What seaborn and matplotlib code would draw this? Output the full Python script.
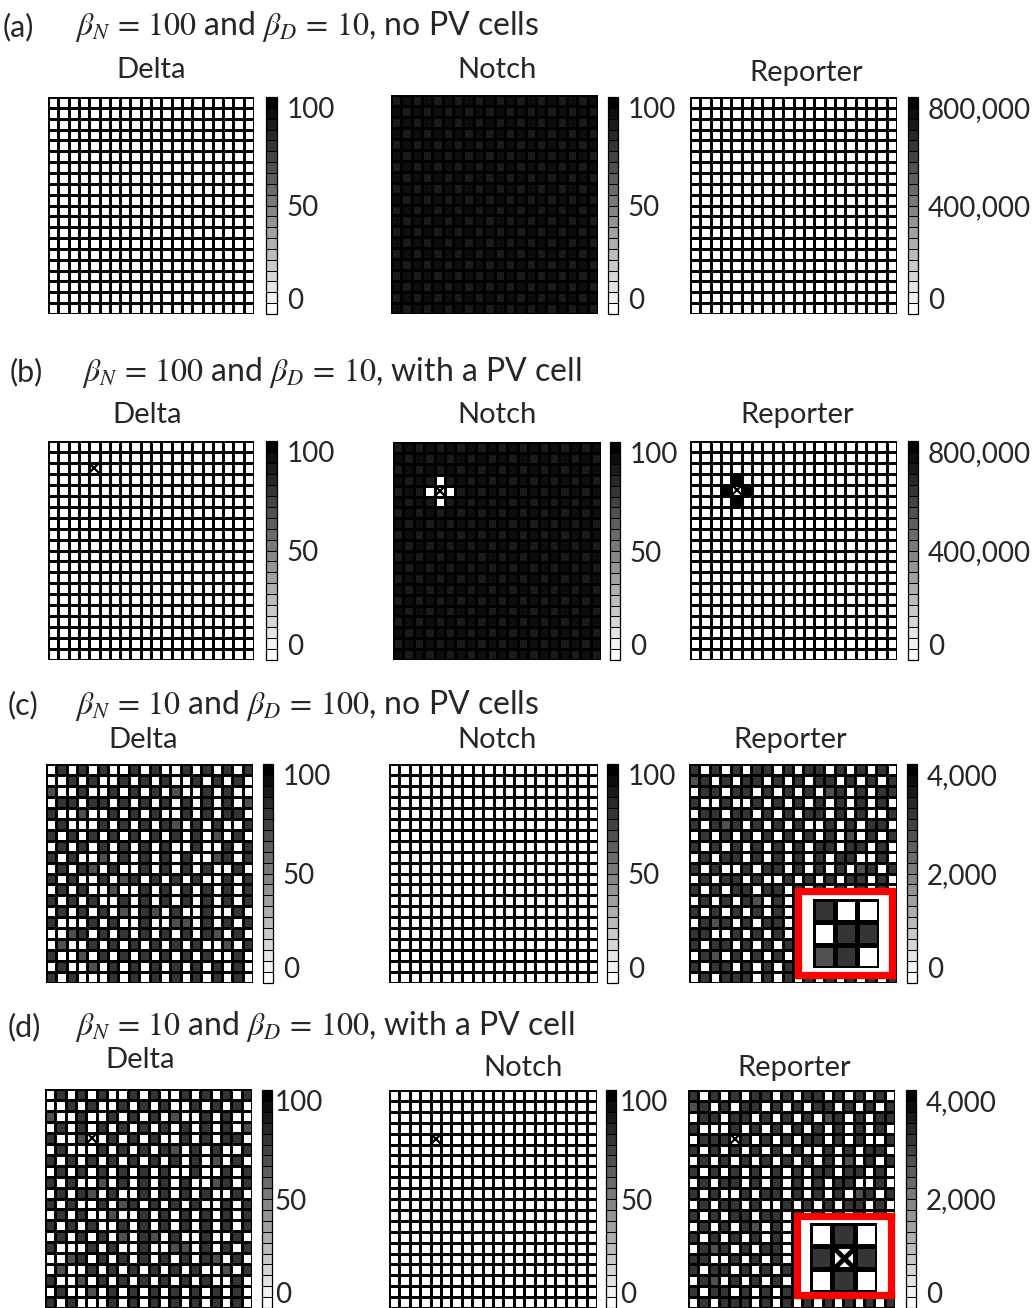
import numpy as np
import matplotlib.pyplot as plt
import seaborn as sns
from matplotlib.colors import ListedColormap

# ---- data (20x20 lattices, row 0 at top) ----
# '.' low, 'D' high, 'm' intermediate, 'a'/'b' the two Notch shades, 'K' saturated
notch_ab_rows = ["abababababababababab", "babababababababababa"] * 10
white_rows = ["...................."] * 20

notch_b_rows = list(notch_ab_rows)
notch_b_rows[3] = "baba.abababababababa"
notch_b_rows[4] = "aba...ababababababab"
notch_b_rows[5] = "baba.abababababababa"

reporter_b_rows = list(white_rows)
reporter_b_rows[3] = "....K..............."
reporter_b_rows[4] = "...K.K.............."
reporter_b_rows[5] = "....K..............."

delta_c_rows = [
    ".D.D.D..D.D..D.D.D.D",
    "..D.D..D.D.D..D.D.D.",
    "m..D..D.D.D.m..D.D..",
    ".DD.DD.D.D.D.D.D.D.m",
    "D..m..D.D.D..D.D.DD.",
    ".D...D.D.D.Dm.D.D..D",
    "D.D.D.D.D.D.D.D.m.D.",
    ".D.D.D.D.D.D..D..D.D",
    "D.D..m.D.D.D.D..mD.D",
    ".D.Dm.D..D.D.D.D..D.",
    "D.D..D.mD.D.D.D..D.D",
    ".D.D..m..D.D.D.D.D.D",
    "D.D.D..D.D.D.D.D.D.D",
    ".D.D.D.m.Dm.D..D..D.",
    "D...D.D..D..mm.D.D.D",
    "..mD.D.D.D.D.D.Dm.D.",
    ".m..D.D.D.D.D.D..m.D",
    "D..m.D.D.D.D.D.D..D.",
    ".D..m.D.D.D.D.D.D.D.",
    "D.D...D.D.D.D.D.D.D.",
]
reporter_c_rows = [
    "D.D.D.DD.D.DD.D.D.D.",
    "mD.D.DD.D.D.DD.D.D.D",
    ".DD.DD.D.D.D.mD.D.DD",
    "D..D..D.D.D.D.D.D.D.",
    ".DD.DD.D.D.DD.D.D..D",
    "D.DmD.D.D.D..D.D.DD.",
    ".D.D.D.D.D.D.D.m.D.D",
    "D.D.D.D.D.D.DD.DD.D.",
    ".D.DD.D.D.D.D.DD..D.",
    "D.D..D.DD.D.D.D.mD.D",
    ".D.DD.D..D.D.D.DD.D.",
    "D.D.DD.DD.D.D.D.D.D.",
    ".D.D.Dm.D.D.D.D.D.D.",
    "D.D.D.D.D..D.DD.DD.D",
    ".DmD.D.DD.DD..D.D.D.",
    "DD..D.D.D.D.D.D..D.D",
    "D.DD.D.D.D.D.D.DD.D.",
    ".Dm.D.D.D.D.D.D.DD.D",
    "D.DD.D.D.D.D.D.D.D.D",
    ".D.DDD.D.D.D.D.D.D.D",
]
delta_d_rows = list(delta_c_rows)
delta_d_rows[3] = ".D.D.D.D.D.D.D.D.D.m"
reporter_d_rows = list(reporter_c_rows)
reporter_d_rows[3] = "D...D.D.D.D.D.D.D.D."
reporter_d_rows[4] = ".DDD.D.D.D.DD.D.D..D"
reporter_d_rows[5] = "D.D.D.D.D.D..D.D.DD."

inset_c_rows = ["D..", ".DD", "mD."]
inset_d_rows = [".D.", "D.D", ".D."]

delta_levels = {".": 1, "D": 77, "m": 67}
notch_levels = {".": 1, "a": 87, "b": 92}
rep_high_levels = {".": 2000, "K": 800000}
rep_low_levels = {".": 40, "D": 3080, "m": 2680}

pv_cell_b_delta = (2, 4)
pv_cell = (4, 4)

# ---- layout ----
W, H = 1032, 1308
sns.set_theme(style="white")
plt.rcParams["font.family"] = ["Lato", "DejaVu Sans"]
plt.rcParams["mathtext.fontset"] = "stix"

fig = plt.figure(figsize=(W / 100, H / 100), dpi=100)
cmap = ListedColormap(plt.get_cmap("gray_r")(np.linspace(0, 1, 20)))


def box(x0, y0, x1, y1):
    return [x0 / W, 1 - y1 / H, (x1 - x0) / W, (y1 - y0) / H]


def grid(rows, levels):
    return np.array([[levels[ch] for ch in r] for r in rows], dtype=float)


def panel(gbox, cbox, data, vmax, labels, pad=7, pv=None):
    ax = fig.add_axes(box(*gbox))
    cax = fig.add_axes(box(*cbox))
    sns.heatmap(data, ax=ax, cbar_ax=cax, cmap=cmap, vmin=0, vmax=vmax,
                linewidths=0.75, linecolor="black",
                xticklabels=False, yticklabels=False,
                cbar_kws={"drawedges": True, "ticks": [0, vmax / 2, vmax]})
    cb = ax.collections[0].colorbar
    cb.outline.set_linewidth(0.9)
    cb.outline.set_edgecolor("black")
    cb.dividers.set_color("black")
    cb.dividers.set_linewidth(0.75)
    cb.set_ticklabels(labels)
    cax.tick_params(length=0, pad=pad, labelsize=20)
    tl = cax.get_yticklabels()
    tl[0].set_verticalalignment("bottom")
    tl[-1].set_verticalalignment("top")
    if pv is not None:
        ax.plot(pv[1] + 0.5, pv[0] + 0.5, marker="x", ms=8, mew=1.6,
                color="black", linestyle="none")
    return ax


def inset(rbox, gbox, data, vmax, pv=None):
    rax = fig.add_axes(box(*rbox))
    rax.set_xticks([])
    rax.set_yticks([])
    rax.set_facecolor("white")
    for s in rax.spines.values():
        s.set_visible(True)
        s.set_color("red")
        s.set_linewidth(5.2)
    iax = fig.add_axes(box(*gbox))
    sns.heatmap(data, ax=iax, cmap=cmap, vmin=0, vmax=vmax, cbar=False,
                linewidths=2.2, linecolor="black",
                xticklabels=False, yticklabels=False)
    if pv is not None:
        iax.plot(pv[1] + 0.5, pv[0] + 0.5, marker="x", ms=16, mew=3.5,
                 color="black", linestyle="none")


def title(lbl, lx, mx, y, txt):
    fig.text(lx / W, 1 - y / H, lbl, fontsize=22, va="center")
    fig.text(mx / W, 1 - y / H, txt, fontsize=23, va="center")


def sub(x, y, txt):
    fig.text(x / W, 1 - y / H, txt, fontsize=21, ha="center", va="center")


d_lab = ["0", "50", "100"]
hi_lab = ["0", "400,000", "800,000"]
lo_lab = ["0", "2,000", "4,000"]

# (a)
title("(a)", 3, 75, 27, r"$\beta_N\,=\,100$ and $\beta_D\,=\,10$, no PV cells")
sub(151, 70, "Delta"); sub(497, 70, "Notch"); sub(806, 73, "Reporter")
panel((48, 97, 254, 314), (266, 97, 277, 314), grid(white_rows, delta_levels), 100, d_lab)
panel((391, 95, 598, 314), (608, 97, 618, 314), grid(notch_ab_rows, notch_levels), 100, d_lab)
panel((690, 97, 897, 314), (908, 97, 918, 314), grid(white_rows, rep_high_levels), 800000, hi_lab)

# (b)
title("(b)", 10, 82, 372, r"$\beta_N\,=\,100$ and $\beta_D\,=\,10$, with a PV cell")
sub(147, 415, "Delta"); sub(497, 415, "Notch"); sub(797, 415, "Reporter")
panel((48, 441, 254, 660), (266, 441, 277, 660), grid(white_rows, delta_levels), 100, d_lab,
      pv=pv_cell_b_delta)
panel((393, 442, 601, 660), (610, 442, 620, 660), grid(notch_b_rows, notch_levels), 100, d_lab,
      pv=pv_cell)
panel((690, 441, 897, 660), (908, 441, 918, 660), grid(reporter_b_rows, rep_high_levels), 800000,
      hi_lab, pv=pv_cell)

# (c)
title("(c)", 8, 75, 705, r"$\beta_N\,=\,10$ and $\beta_D\,=\,100$, no PV cells")
sub(143, 740, "Delta"); sub(497, 740, "Notch"); sub(790, 740, "Reporter")
panel((46, 764, 253, 983), (263, 764, 273, 983), grid(delta_c_rows, delta_levels), 100, d_lab)
panel((389, 764, 598, 983), (607, 764, 618, 983), grid(white_rows, delta_levels), 100, d_lab)
panel((689, 764, 897, 983), (907, 764, 917, 983), grid(reporter_c_rows, rep_low_levels), 4000, lo_lab)
inset((797.5, 890.5, 891.5, 974.5), (813, 899, 879, 968), grid(inset_c_rows, rep_low_levels), 4000)

# (d)
title("(d)", 8, 75, 1027, r"$\beta_N\,=\,10$ and $\beta_D\,=\,100$, with a PV cell")
sub(140, 1060, "Delta"); sub(523, 1068, "Notch"); sub(794, 1068, "Reporter")
panel((45, 1089, 252, 1308), (262, 1090, 272, 1308), grid(delta_d_rows, delta_levels), 100, d_lab,
      pad=2, pv=pv_cell)
panel((389, 1090, 597, 1308), (606, 1090, 616, 1308), grid(white_rows, delta_levels), 100, d_lab,
      pad=3, pv=pv_cell)
panel((688, 1090, 895, 1308), (906, 1090, 916, 1308), grid(reporter_d_rows, rep_low_levels), 4000,
      lo_lab, pad=7, pv=pv_cell)
inset((796.5, 1215.5, 890.5, 1294.5), (810, 1223, 877, 1292), grid(inset_d_rows, rep_low_levels), 4000,
      pv=(1, 1))

fig.savefig("out.png", dpi=100)
